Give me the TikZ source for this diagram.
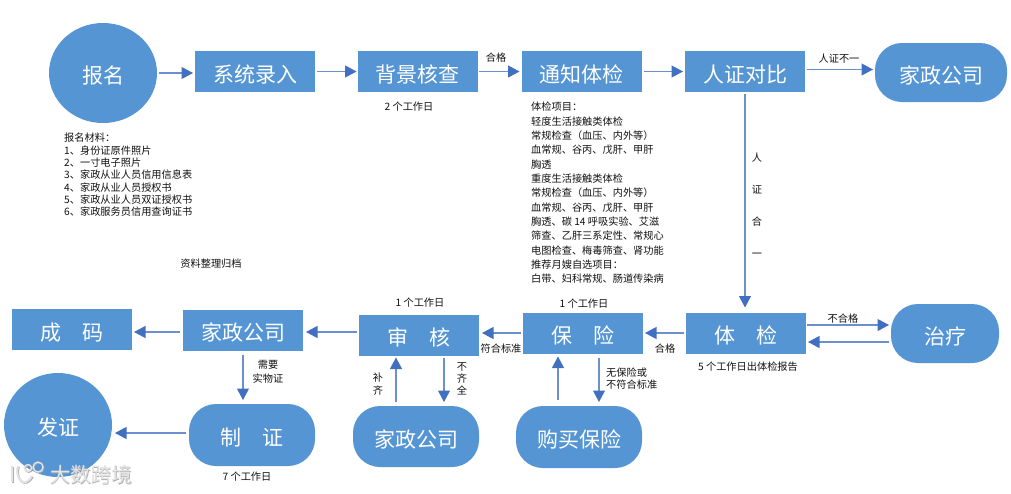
\documentclass[tikz,border=0pt]{standalone}
\usepackage{fontspec}
\setmainfont{Noto Sans CJK SC}
\usetikzlibrary{arrows.meta,shapes.geometric}
\definecolor{nodeblue}{HTML}{5595D3}
\definecolor{lineblue}{HTML}{6C90CE}
\definecolor{tipblue}{HTML}{4270C0}
\definecolor{labelink}{HTML}{111111}
\definecolor{wmfill}{HTML}{E4E4E4}
\definecolor{wmshade}{HTML}{B0B0B0}
\newcommand{\low}[1]{\raisebox{-10.5pt}[0pt][0pt]{#1}}
\tikzset{
  x=1pt,y=-1pt,
  base/.style={fill=nodeblue,text=white,inner sep=0pt,outer sep=0pt,font=\fontsize{21}{21}\selectfont},
  sqbox/.style={base,rectangle,minimum width=120pt,minimum height=41pt},
  pillbox/.style={base,rectangle,rounded corners=27pt},
  disc/.style={base,ellipse},
  lbl/.style={text=labelink,inner sep=0pt,font=\fontsize{10.2}{12.3}\selectfont,align=center},
  lst/.style={lbl,align=left,anchor=west},
  flow/.style={draw=lineblue,line width=1.1pt,-{Triangle[length=11.5pt,width=12pt,color=tipblue]}},
  wmstroke/.style={draw=#1,line width=2pt,fill=none},
}
\begin{document}
\begin{tikzpicture}
\useasboundingbox (0,0) rectangle (1011,493);
\fill[white] (0,0) rectangle (1011,493);
% top row
\node[disc,minimum width=108pt,minimum height=100pt] (baoming) at (103,73) {\low{报名}};
\node[sqbox] (luru) at (255,71.5) {\low{系统录入}};
\node[sqbox] (heqcha) at (417.5,71.5) {\low{背景核查}};
\node[sqbox] (tongzhi) at (581.5,71.5) {\low{通知体检}};
\node[sqbox] (renzheng) at (745,71.5) {\low{人证对比}};
\node[pillbox,minimum width=132pt,minimum height=59pt] (jzA) at (941,72.5) {\low{家政公司}};
% middle row
\node[sqbox] (tijian) at (746,333) {\low{体\hspace{1em}检}};
\node[pillbox,minimum width=108pt,minimum height=59pt] (zhiliao) at (945,333.5) {\low{治疗}};
\node[sqbox] (baoxian) at (583,333) {\low{保\hspace{1em}险}};
\node[sqbox] (shenhe) at (419,335) {\low{审\hspace{1em}核}};
\node[sqbox] (jzB) at (243,330) {\low{家政公司}};
\node[sqbox] (chengma) at (72,329.5) {\low{成\hspace{1em}码}};
% bottom row
\node[disc,minimum width=108pt,minimum height=104pt] (fazheng) at (58,425) {\low{发证}};
\node[pillbox,minimum width=126pt,minimum height=62pt] (zhizheng) at (252,435) {\low{制\hspace{1em}证}};
\node[pillbox,minimum width=126pt,minimum height=61pt] (jzC) at (416,436.5) {\low{家政公司}};
\node[pillbox,minimum width=126pt,minimum height=62pt] (goumai) at (579,437) {\low{购买保险}};
% connectors
\draw[flow,shorten <=2pt,shorten >=2pt] (baoming.east |- 0,73) -- (luru.west |- 0,73);
\draw[flow,shorten <=2pt,shorten >=1pt] (luru.east |- 0,71.5) -- (heqcha.west |- 0,71.5);
\draw[flow,shorten <=1pt,shorten >=2pt] (heqcha.east |- 0,71.5) -- (tongzhi.west |- 0,71.5);
\draw[flow,shorten <=2pt,shorten >=2pt] (tongzhi.east |- 0,71.5) -- (renzheng.west |- 0,71.5);
\draw[flow,shorten <=2pt,shorten >=2pt] (renzheng.east |- 0,69.5) -- (jzA.west |- 0,69.5);
\draw[flow,shorten <=2pt,shorten >=5pt] (renzheng.south) -- (tijian.north -| renzheng.south);
\draw[flow,shorten <=1pt,shorten >=2pt] (tijian.east |- 0,325) -- (zhiliao.west |- 0,325);
\draw[flow,shorten <=2pt,shorten >=2pt] (zhiliao.west |- 0,342) -- (tijian.east |- 0,342);
\draw[flow,shorten <=2pt,shorten >=2pt] (tijian.west |- 0,333) -- (baoxian.east |- 0,333);
\draw[flow,shorten <=2pt,shorten >=3pt] (baoxian.west |- 0,333) -- (shenhe.east |- 0,333);
\draw[flow,shorten <=2pt,shorten >=3pt] (shenhe.west |- 0,332) -- (jzB.east |- 0,332);
\draw[flow,shorten <=3pt,shorten >=2pt] (jzB.west |- 0,332) -- (chengma.east |- 0,332);
\draw[flow,shorten <=4pt,shorten >=4pt] (jzB.south) -- (zhizheng.north -| jzB.south);
\draw[flow,shorten <=3pt,shorten >=3pt] (zhizheng.west |- 0,433) -- (fazheng.east |- 0,433);
\draw[flow,shorten <=4pt,shorten >=2pt] (jzC.north -| 396,0) -- (shenhe.south -| 396,0);
\draw[flow,shorten <=2pt,shorten >=4pt] (shenhe.south -| 444,0) -- (jzC.north -| 444,0);
\draw[flow,shorten <=6pt,shorten >=3pt] (goumai.north -| 558,0) -- (baoxian.south -| 558,0);
\draw[flow,shorten <=4pt,shorten >=4pt] (baoxian.south -| 599,0) -- (goumai.north -| 599,0);
% labels
\node[lst] (cailiao) at (64,175) {报名材料：\\1、身份证原件照片\\2、一寸电子照片\\3、家政从业人员信用信息表\\4、家政从业人员授权书\\5、家政从业人员双证授权书\\6、家政服务员信用查询证书};
\node[lbl] (guidang) at (211,264) {资料整理归档};
\node[lbl] (lhege) at (496,58) {合格};
\node[lbl] (ltwo) at (409,107) {2 个工作日};
\node[lst,font=\fontsize{10.2}{14.33}\selectfont] (xiangmu) at (531,193) {体检项目：\\轻度生活接触类体检\\常规检查（血压、内外等）\\血常规、谷丙、戊肝、甲肝\\胸透\\重度生活接触类体检\\常规检查（血压、内外等）\\血常规、谷丙、戊肝、甲肝\\胸透、碳 14 呼吸实验、艾滋\\筛查、乙肝三系定性、常规心\\电图检查、梅毒筛查、肾功能\\推荐月嫂自选项目：\\白带、妇科常规、肠道传染病};
\node[lbl] (lbuyi) at (839,59) {人证不一};
\node[lbl,font=\fontsize{10.2}{32}\selectfont] (lheyi) at (757,205) {人\\证\\合\\一};
\node[lbl] (lbuhege) at (843,319) {不合格};
\node[lbl] (lfive) at (748,367) {5 个工作日出体检报告};
\node[lbl] (lhege2) at (665,349) {合格};
\node[lbl] (lfuhe) at (501,349) {符合标准};
\node[lbl] (lone) at (420,303) {1 个工作日};
\node[lbl] (lone2) at (584,304) {1 个工作日};
\node[lst] (lwubx) at (606,378.5) {无保险或\\不符合标准};
\node[lbl] (lbuqi) at (378,384) {补\\齐};
\node[lbl] (lbuqq) at (462,379) {不\\齐\\全};
\node[lbl,font=\fontsize{10.2}{14}\selectfont] (lxuyao) at (268,372) {需要\\实物证};
\node[lbl] (lseven) at (247,477) {7 个工作日};
% watermark
\foreach \col/\dx in {wmshade/0.8,wmfill/0}{
  \draw[wmstroke=\col] (12+\dx,466+\dx) -- (12+\dx,482+\dx);
  \draw[wmstroke=\col] (18+\dx,466+\dx) .. controls (14+\dx,477+\dx) and (24+\dx,490+\dx) .. (32+\dx,476+\dx);
  \draw[wmstroke=\col,line width=1.3pt] (28+\dx,468+\dx) circle (3.5) (38+\dx,467+\dx) circle (5);
}
\node[inner sep=0pt,font=\fontsize{20.5}{20.5}\selectfont,text=wmshade] (wmb) at (91.8,475.8) {大数跨境};
\node[inner sep=0pt,font=\fontsize{20.5}{20.5}\selectfont,text=wmfill] (wm) at (91,475) {大数跨境};
\end{tikzpicture}
\end{document}
